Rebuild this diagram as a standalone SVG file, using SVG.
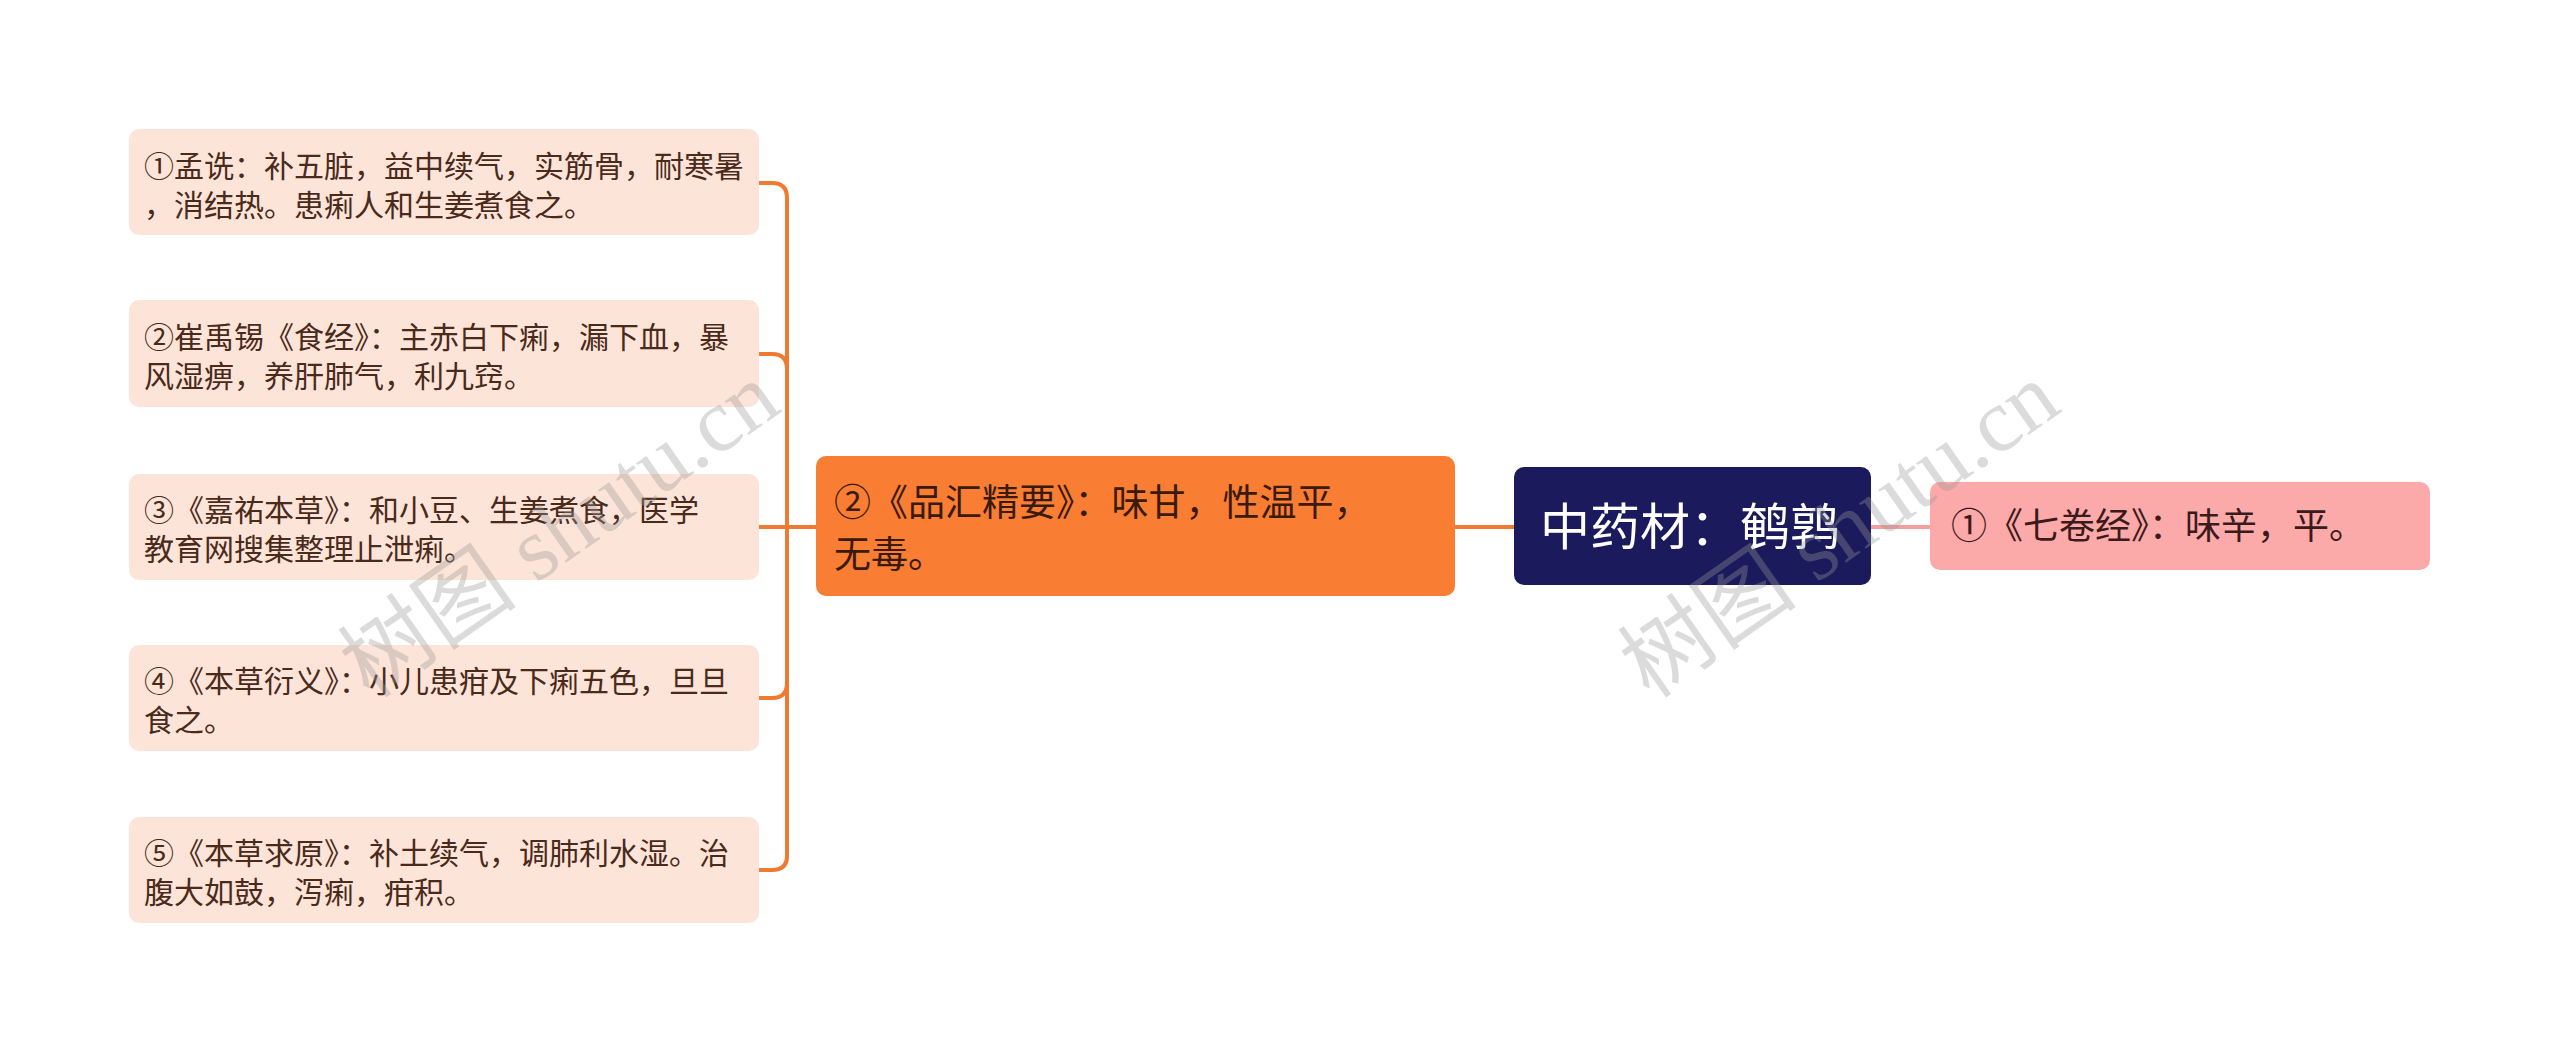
<svg xmlns="http://www.w3.org/2000/svg" width="2560" height="1053" viewBox="0 0 2560 1053">
<style>
text{font-family:"Liberation Sans","Noto Sans CJK SC",sans-serif}
.leaf{fill:#fde4d8}
.lt{font-size:30px;fill:#4a2a1a}
.c{fill:none;stroke:#f07a30;stroke-width:4}
.wm{font-size:90px;fill:#999;opacity:0.35;font-family:"Liberation Serif","Noto Sans CJK SC",serif}
</style>
<rect width="2560" height="1053" fill="#fff"/>
<g id="connectors">
<path class="c" d="M759,183 H772 Q787,183 787,198 V856 Q787,870 772,870 H759"/>
<path class="c" d="M759,354 H772 Q787,354 787,369"/>
<path class="c" d="M759,698 H772 Q787,698 787,683"/>
<path class="c" d="M759,527 H816"/>
<path class="c" d="M1455,527 H1514"/>
<path d="M1871,527 H1930" fill="none" stroke="#f4a0a0" stroke-width="4"/>
</g>
<g id="n1"><rect class="leaf" x="129" y="129" width="630" height="106" rx="10"/>
<text class="lt" x="144" y="177">①孟诜：补五脏，益中续气，实筋骨，耐寒暑</text><text class="lt" x="144" y="216">，消结热。患痢人和生姜煮食之。</text></g>
<g id="n2"><rect class="leaf" x="129" y="300" width="630" height="107" rx="10"/>
<text class="lt" x="144" y="348">②崔禹锡《食经》：主赤白下痢，漏下血，暴</text><text class="lt" x="144" y="387">风湿痹，养肝肺气，利九窍。</text></g>
<g id="n3"><rect class="leaf" x="129" y="474" width="630" height="106" rx="10"/>
<text class="lt" x="144" y="521">③《嘉祐本草》：和小豆、生姜煮食，医学</text><text class="lt" x="144" y="560">教育网搜集整理止泄痢。</text></g>
<g id="n4"><rect class="leaf" x="129" y="645" width="630" height="106" rx="10"/>
<text class="lt" x="144" y="692">④《本草衍义》：小儿患疳及下痢五色，旦旦</text><text class="lt" x="144" y="731">食之。</text></g>
<g id="n5"><rect class="leaf" x="129" y="817" width="630" height="106" rx="10"/>
<text class="lt" x="144" y="864">⑤《本草求原》：补土续气，调肺利水湿。治</text><text class="lt" x="144" y="903">腹大如鼓，泻痢，疳积。</text></g>
<g id="mid"><rect x="816" y="456" width="639" height="140" rx="10" fill="#f97d33"/>
<text x="834" y="516" font-size="37" fill="#3a1a0a">②《品汇精要》：味甘，性温平，</text><text x="834" y="568" font-size="37" fill="#3a1a0a">无毒。</text></g>
<g id="root"><rect x="1514" y="467" width="357" height="118" rx="10" fill="#1b1a5c"/>
<text x="1540" y="545" font-size="50" fill="#fff">中药材：鹌鹑</text></g>
<g id="right"><rect x="1930" y="482" width="500" height="88" rx="10" fill="#fca9a9"/>
<text x="1951" y="539" font-size="36" fill="#3a1a1a">①《七卷经》：味辛，平。</text></g>
<text class="wm" transform="translate(370,700) rotate(-35)">树图 shutu.cn</text>
<text class="wm" transform="translate(1650,700) rotate(-35)">树图 shutu.cn</text>
</svg>
